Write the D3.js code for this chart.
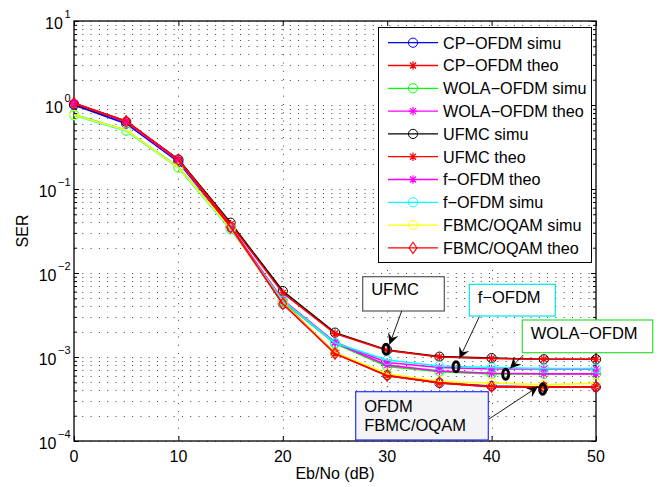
<!DOCTYPE html>
<html>
<head>
<meta charset="utf-8">
<script src="https://cdn.jsdelivr.net/npm/d3@7"></script>
<style>
  body { margin: 0; background: #fff; }
  svg { font-family: "Liberation Sans", Arial, sans-serif; }
</style>
</head>
<body>
<svg id="chart" width="660" height="487"></svg>
<script>
// Eb/No points (dB)
const snr = [0, 5, 10, 15, 20, 25, 30, 35, 40, 45, 50];

// SER values
const cpSimu   = [1.00, 0.60, 0.210, 0.0350, 0.00430, 0.00112, 0.00061, 0.00049, 0.00045, 0.00044, 0.00044];
const cpTheo   = [1.05, 0.64, 0.222, 0.0360, 0.00450, 0.00110, 0.00060, 0.00049, 0.00044, 0.00044, 0.00044];
const wolaSimu = [0.77, 0.50, 0.182, 0.0340, 0.00460, 0.00145, 0.00077, 0.00067, 0.00063, 0.00063, 0.00063];
const wolaTheo = [1.05, 0.63, 0.220, 0.0350, 0.00470, 0.00148, 0.00080, 0.00068, 0.00064, 0.00063, 0.00063];
const ufmcSimu = [1.02, 0.63, 0.225, 0.0397, 0.00610, 0.00195, 0.00121, 0.00101, 0.00097, 0.00094, 0.00094];
const ufmcTheo = [1.05, 0.64, 0.222, 0.0380, 0.00580, 0.00190, 0.00120, 0.00100, 0.00096, 0.00094, 0.00094];
const fTheo    = [1.05, 0.63, 0.220, 0.0350, 0.00480, 0.00150, 0.00086, 0.00075, 0.00072, 0.00072, 0.00072];
const fSimu    = [0.75, 0.49, 0.178, 0.0330, 0.00470, 0.00147, 0.00092, 0.00078, 0.00075, 0.00073, 0.00073];
const fbmcSimu = [0.76, 0.50, 0.180, 0.0340, 0.00440, 0.00113, 0.00063, 0.00051, 0.00049, 0.000466, 0.000487];
const fbmcTheo = [1.05, 0.64, 0.222, 0.0350, 0.00430, 0.00110, 0.00060, 0.000495, 0.000444, 0.000437, 0.000437];

const xTicks = [0, 10, 20, 30, 40, 50];
const yExps = [-4, -3, -2, -1, 0, 1];

const series = [
  { name: "CP\u2212OFDM simu",   vals: cpSimu,   color: "#0000ff", mark: "o" },
  { name: "CP\u2212OFDM theo",   vals: cpTheo,   color: "#ff0000", mark: "*" },
  { name: "WOLA\u2212OFDM simu", vals: wolaSimu, color: "#00ff00", mark: "o" },
  { name: "WOLA\u2212OFDM theo", vals: wolaTheo, color: "#ff00ff", mark: "*" },
  { name: "UFMC simu",           vals: ufmcSimu, color: "#000000", mark: "o" },
  { name: "UFMC theo",           vals: ufmcTheo, color: "#ff0000", mark: "*" },
  { name: "f\u2212OFDM theo",    vals: fTheo,    color: "#ff00ff", mark: "*" },
  { name: "f\u2212OFDM simu",    vals: fSimu,    color: "#00ffff", mark: "o" },
  { name: "FBMC/OQAM simu",      vals: fbmcSimu, color: "#ffff00", mark: "o" },
  { name: "FBMC/OQAM theo",      vals: fbmcTheo, color: "#ff0000", mark: "d" }
];

const margin = { top: 21, right: 64, bottom: 46, left: 74 };
const width = 660, height = 487;

const svg = d3.select("#chart");

const x = d3.scaleLinear()
  .domain([0, 50])
  .range([margin.left, width - margin.right]);

const y = d3.scaleLog()
  .domain([1e-4, 10])
  .range([height - margin.bottom, margin.top]);

// grid
const grid = svg.append("g")
  .attr("stroke", "#444")
  .attr("stroke-width", 1)
  .attr("stroke-dasharray", "1,7.3");

grid.selectAll(".gy")
  .data(y.ticks())
  .join("line")
    .attr("x1", x(0)).attr("x2", x(50))
    .attr("y1", d => Math.round(y(d)) + 0.5)
    .attr("y2", d => Math.round(y(d)) + 0.5);

grid.selectAll(".gx")
  .data(xTicks.slice(1, -1))
  .join("line")
    .attr("x1", d => Math.round(x(d)) + 0.5)
    .attr("x2", d => Math.round(x(d)) + 0.5)
    .attr("y1", y(10)).attr("y2", y(1e-4));

// axes (ticks pointing inward, box on)
function xAxis(g, orient) {
  const ax = orient === "bottom" ? d3.axisBottom(x) : d3.axisTop(x);
  g.call(ax.tickValues(xTicks).tickSizeInner(-5).tickSizeOuter(0).tickFormat(""))
    .call(g => g.select(".domain").remove());
}
function yAxis(g, orient) {
  const ax = orient === "left" ? d3.axisLeft(y) : d3.axisRight(y);
  g.call(ax.tickValues(y.ticks()).tickSizeInner(-5).tickSizeOuter(0).tickFormat(""))
    .call(g => g.select(".domain").remove())
    .call(g => g.selectAll(".tick line")
      .attr("x2", d => {
        const major = Math.abs(Math.log10(d) - Math.round(Math.log10(d))) < 1e-9;
        const len = major ? 5 : 3;
        return orient === "left" ? len : -len;
      }));
}

svg.append("g").attr("transform", `translate(0,${y(1e-4)})`).call(xAxis, "bottom");
svg.append("g").attr("transform", `translate(0,${y(10)})`).call(xAxis, "top");
svg.append("g").attr("transform", `translate(${x(0)},0)`).call(yAxis, "left");
svg.append("g").attr("transform", `translate(${x(50)},0)`).call(yAxis, "right");

svg.selectAll(".tick line").attr("stroke", "#000");

svg.append("rect")
  .attr("x", x(0)).attr("y", y(10))
  .attr("width", x(50) - x(0)).attr("height", y(1e-4) - y(10))
  .attr("fill", "none").attr("stroke", "#000").attr("stroke-width", 1.3);

// tick labels
svg.append("g").selectAll("text")
  .data(xTicks)
  .join("text")
    .attr("x", d => x(d))
    .attr("y", y(1e-4) + 21)
    .attr("text-anchor", "middle")
    .attr("font-size", 16)
    .text(d => d);

const ylab = svg.append("g").selectAll("text")
  .data(yExps)
  .join("text")
    .attr("y", d => y(Math.pow(10, d)) + 7.5)
    .attr("font-size", 16);
ylab.append("tspan").text("10");
ylab.append("tspan")
  .attr("font-size", 11)
  .attr("dy", -10.5)
  .attr("dx", 1.5)
  .text(d => d < 0 ? "\u2212" + Math.abs(d) : d);
ylab.attr("x", function() { return 70.5 - this.getComputedTextLength() - 1.5; });

svg.append("text")
  .attr("x", (x(0) + x(50)) / 2)
  .attr("y", 478.5)
  .attr("text-anchor", "middle")
  .attr("font-size", 16)
  .text("Eb/No (dB)");

svg.append("text")
  .attr("transform", `translate(27.5,${(y(10) + y(1e-4)) / 2}) rotate(-90)`)
  .attr("text-anchor", "middle")
  .attr("font-size", 16)
  .text("SER");

// markers
function drawMarker(g, type, color) {
  if (type === "o") {
    g.append("circle").attr("r", 4.6).attr("fill", "none").attr("stroke", color).attr("stroke-width", 1);
  } else if (type === "*") {
    const r = 4.3, k = r * Math.SQRT1_2;
    g.append("path")
      .attr("d", `M${-r},0H${r}M0,${-r}V${r}M${-k},${-k}L${k},${k}M${-k},${k}L${k},${-k}`)
      .attr("stroke", color).attr("stroke-width", 1.2).attr("fill", "none");
  } else if (type === "d") {
    const r = 5.7;
    g.append("path")
      .attr("d", `M0,${-r}L${r * 0.7},0L0,${r}L${-r * 0.7},0Z`)
      .attr("stroke", color).attr("stroke-width", 1.1).attr("fill", "none");
  }
}

const line = d3.line()
  .x((d, i) => x(snr[i]))
  .y(d => y(d));

const plot = svg.append("g");
series.forEach(s => {
  const g = plot.append("g");
  g.append("path")
    .datum(s.vals)
    .attr("d", line)
    .attr("fill", "none")
    .attr("stroke", s.color)
    .attr("stroke-width", 1.6);
  g.selectAll("g")
    .data(s.vals)
    .join("g")
      .attr("transform", (d, i) => `translate(${x(snr[i])},${y(d)})`)
      .each(function() { drawMarker(d3.select(this), s.mark, s.color); });
});

// legend
const leg = svg.append("g");
leg.append("rect")
  .attr("x", 378.5).attr("y", 27.5)
  .attr("width", 213).attr("height", 235)
  .attr("fill", "#fff").attr("stroke", "#000").attr("stroke-width", 1);

series.forEach((s, i) => {
  const ry = 42.7 + i * 22.8;
  const row = leg.append("g");
  row.append("line")
    .attr("x1", 388).attr("x2", 438)
    .attr("y1", ry).attr("y2", ry)
    .attr("stroke", s.color).attr("stroke-width", 1.3);
  drawMarker(row.append("g").attr("transform", `translate(413,${ry})`), s.mark, s.color);
  row.append("text")
    .attr("x", 443).attr("y", ry + 5.8)
    .attr("font-size", 16.2)
    .text(s.name);
});

// annotations
const notes = [
  { lines: ["UFMC"], box: [362.7, 276.7, 444.3, 311], border: "#555", fill: "#fff",
    from: [401.7, 311], to: [389.5, 344.5], ell: [386, 349.3] },
  { lines: ["f\u2212OFDM"], box: [469.3, 284.3, 555.3, 316], border: "#00e5ee", fill: "#fff",
    from: [479.3, 316.7], to: [459.5, 358.5], ell: [456, 366.7] },
  { lines: ["WOLA\u2212OFDM"], box: [522.3, 320, 652.7, 352.7], border: "#33dd33", fill: "#fff",
    from: [523.3, 355], to: [510, 368.5], ell: [505.7, 374.3] },
  { lines: ["OFDM", "FBMC/OQAM"], box: [355.7, 391.7, 488.3, 440], border: "#2233ff", fill: "#f4f4f6",
    from: [489, 419], to: [538, 386.7], ell: [542.7, 389.3] }
];

const ann = svg.append("g");
notes.forEach(n => {
  const g = ann.append("g");
  g.append("rect")
    .attr("x", n.box[0]).attr("y", n.box[1])
    .attr("width", n.box[2] - n.box[0]).attr("height", n.box[3] - n.box[1])
    .attr("fill", n.fill).attr("stroke", n.border).attr("stroke-width", 1.2);
  n.lines.forEach((t, j) => {
    g.append("text")
      .attr("x", n.box[0] + 8.5)
      .attr("y", n.lines.length === 1 ? n.box[1] + 18.5 : n.box[1] + 20 + j * 19)
      .attr("font-size", 16.5)
      .text(t);
  });
  const [x1, y1] = n.from, [x2, y2] = n.to;
  const ang = Math.atan2(y2 - y1, x2 - x1);
  g.append("line")
    .attr("x1", x1).attr("y1", y1).attr("x2", x2).attr("y2", y2)
    .attr("stroke", "#000").attr("stroke-width", 0.9);
  const L = 11, W = 5.5, B = 4;
  const pts = [
    [0, 0], [-L, -W], [-L + B, 0], [-L, W]
  ].map(([px, py]) => [
    x2 + px * Math.cos(ang) - py * Math.sin(ang),
    y2 + px * Math.sin(ang) + py * Math.cos(ang)
  ]);
  g.append("path")
    .attr("d", "M" + pts.map(p => p.join(",")).join("L") + "Z")
    .attr("fill", "#000");
  g.append("ellipse")
    .attr("cx", n.ell[0]).attr("cy", n.ell[1])
    .attr("rx", 3).attr("ry", 5)
    .attr("fill", "none").attr("stroke", "#000").attr("stroke-width", 3);
});
</script>
</body>
</html>
